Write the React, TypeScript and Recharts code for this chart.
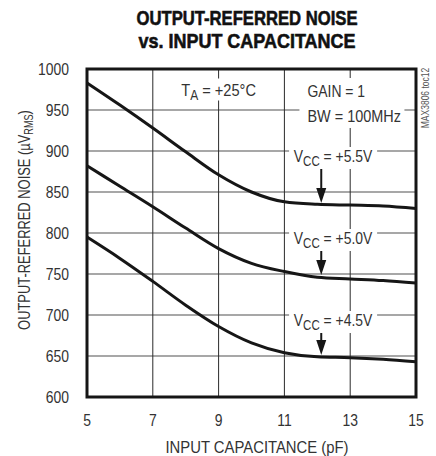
import { LineChart, Line, XAxis, YAxis, CartesianGrid, ReferenceArea, ReferenceDot, ReferenceLine } from "recharts";

// input capacitance (pF)
const capacitance = [5, 6, 7, 8, 9, 10, 11, 12, 13, 14, 15];
// output-referred noise (uVrms)
const noiseVcc55 = [983, 956, 928, 899, 871, 850, 838, 835, 834, 833, 830];
const noiseVcc50 = [882, 857, 832, 806, 781, 763, 753, 746, 744, 742, 739];
const noiseVcc45 = [795, 769, 741, 712, 686, 666, 654, 649, 648, 646, 643];

const xTicks = [5, 7, 9, 11, 13, 15];
const yTicks = [600, 650, 700, 750, 800, 850, 900, 950, 1000];

const data = capacitance.map((c, i) => ({
  c,
  v55: noiseVcc55[i],
  v50: noiseVcc50[i],
  v45: noiseVcc45[i],
}));

// no condensed face is installed, so Liberation Sans gets squeezed horizontally
const FONT = '"Liberation Sans", Arial, sans-serif';
const SQ = 0.82;
const TEXT = "#333";
const INK = "#161616";

const Narrow = ({ x, y, s = SQ, children, ...rest }: any) => (
  <g transform={`translate(${x},${y}) scale(${s},1)`}>
    <text x={0} y={0} fontFamily={FONT} fontSize={17} fill={TEXT} {...rest}>
      {children}
    </text>
  </g>
);

const YTick = ({ x, y, payload }: any) => (
  <Narrow x={x} y={y + 6} textAnchor="end">{payload.value}</Narrow>
);

const XTick = ({ x, y, payload }: any) => (
  <Narrow x={x} y={y + 12} textAnchor="middle">{payload.value}</Narrow>
);

const VccLabel = ({ cx, cy, value }: any) => (
  <g>
    <rect x={cx - 44} y={cy - 4} width={88} height={22} fill="#fff" />
    <Narrow x={cx} y={cy + 11} textAnchor="middle">
      V<tspan fontSize={14} dy={4}>CC</tspan>
      <tspan dy={-4}>{` = ${value}`}</tspan>
    </Narrow>
  </g>
);

const ArrowHead = ({ cx, cy }: any) => (
  <path d={`M${cx - 5},${cy - 15} L${cx + 5},${cy - 15} L${cx},${cy} Z`} fill={INK} />
);

const TempLabel = ({ cx, cy }: any) => (
  <g>
    <rect x={cx - 40} y={cy - 11} width={80} height={22} fill="#fff" />
    <Narrow x={cx} y={cy + 6} s={0.86} textAnchor="middle">
      T<tspan fontSize={14} dy={4}>A</tspan>
      <tspan dy={-4}> = +25°C</tspan>
    </Narrow>
  </g>
);

const GainLabel = ({ cx, cy }: any) => (
  <g>
    <rect x={cx - 8} y={cy - 32} width={105} height={50} fill="#fff" />
    <Narrow x={cx} y={cy - 13}>GAIN = 1</Narrow>
    <Narrow x={cx} y={cy + 12} s={0.85}>BW = 100MHz</Narrow>
  </g>
);

const vccNotes = [
  { value: "+5.5V", at: 900, top: 879, tip: 836.6 },
  { value: "+5.0V", at: 800, top: 788, tip: 748.8 },
  { value: "+4.5V", at: 700, top: 688, tip: 651.2 },
];

export default function App() {
  return (
    <div style={{ position: "absolute", left: 0, top: 0, width: 436, height: 456, background: "#fff" }}>
      <svg width={436} height={456} style={{ position: "absolute", left: 0, top: 0, pointerEvents: "none" }}>
        <text x={247} y={25} textAnchor="middle" fontFamily={FONT} fontWeight="bold" fontSize={21} fill="#111"
          stroke="#111" strokeWidth={0.6} textLength={221} lengthAdjust="spacingAndGlyphs">
          OUTPUT-REFERRED NOISE
        </text>
        <text x={247} y={48} textAnchor="middle" fontFamily={FONT} fontWeight="bold" fontSize={21} fill="#111"
          stroke="#111" strokeWidth={0.6} textLength={217} lengthAdjust="spacingAndGlyphs">
          vs. INPUT CAPACITANCE
        </text>
        <g transform="translate(30,220) rotate(-90) scale(0.76,1)">
          <text x={0} y={0} textAnchor="middle" fontFamily={FONT} fontSize={17} fill={TEXT}>
            OUTPUT-REFERRED NOISE (µV<tspan fontSize={12} dy={3}>RMS</tspan>
            <tspan dy={-3}>)</tspan>
          </text>
        </g>
        <text x={257} y={453} textAnchor="middle" fontFamily={FONT} fontSize={17} fill={TEXT}
          textLength={183} lengthAdjust="spacingAndGlyphs">
          INPUT CAPACITANCE (pF)
        </text>
        <g transform="translate(429,98) rotate(-90) scale(0.85,1)">
          <text x={0} y={0} textAnchor="middle" fontFamily={FONT} fontSize={10} fill="#555">
            MAX3806 toc12
          </text>
        </g>
      </svg>
      <LineChart width={436} height={456} data={data} margin={{ top: 69, right: 20, bottom: 0, left: 0 }}>
        <CartesianGrid vertical={false} stroke="#8a8a8a" strokeWidth={1.3} />
        <CartesianGrid horizontal={false} stroke="#2a2a2a" strokeWidth={1} />
        <XAxis
          dataKey="c"
          type="number"
          domain={[5, 15]}
          ticks={xTicks}
          height={59}
          axisLine={false}
          tickLine={false}
          tickSize={6}
          tickMargin={11}
          tick={<XTick />}
        />
        <YAxis
          type="number"
          domain={[600, 1000]}
          ticks={yTicks}
          width={87}
          axisLine={false}
          tickLine={false}
          tickSize={6}
          tickMargin={12}
          tick={<YTick />}
        />
        <ReferenceArea x1={5} x2={15} y1={600} y2={1000} fill="none" stroke={INK} strokeWidth={3} ifOverflow="visible" />
        <Line type="monotone" dataKey="v55" stroke={INK} strokeWidth={3} dot={false} isAnimationActive={false} />
        <Line type="monotone" dataKey="v50" stroke={INK} strokeWidth={3} dot={false} isAnimationActive={false} />
        <Line type="monotone" dataKey="v45" stroke={INK} strokeWidth={3} dot={false} isAnimationActive={false} />
        <ReferenceDot x={9} y={975} r={0} shape={(p: any) => <TempLabel {...p} />} />
        <ReferenceDot x={11.7} y={950} r={0} shape={(p: any) => <GainLabel {...p} />} />
        {vccNotes.map((n) => (
          <ReferenceDot key={n.value} x={12.48} y={n.at} r={0} shape={(p: any) => <VccLabel {...p} value={n.value} />} />
        ))}
        {vccNotes.map((n) => (
          <ReferenceLine
            key={"s" + n.value}
            segment={[
              { x: 12.12, y: n.top },
              { x: 12.12, y: n.tip + 16 },
            ]}
            stroke={INK}
            strokeWidth={2}
          />
        ))}
        {vccNotes.map((n) => (
          <ReferenceDot key={"h" + n.value} x={12.12} y={n.tip} r={0} shape={(p: any) => <ArrowHead {...p} />} />
        ))}
      </LineChart>
    </div>
  );
}
